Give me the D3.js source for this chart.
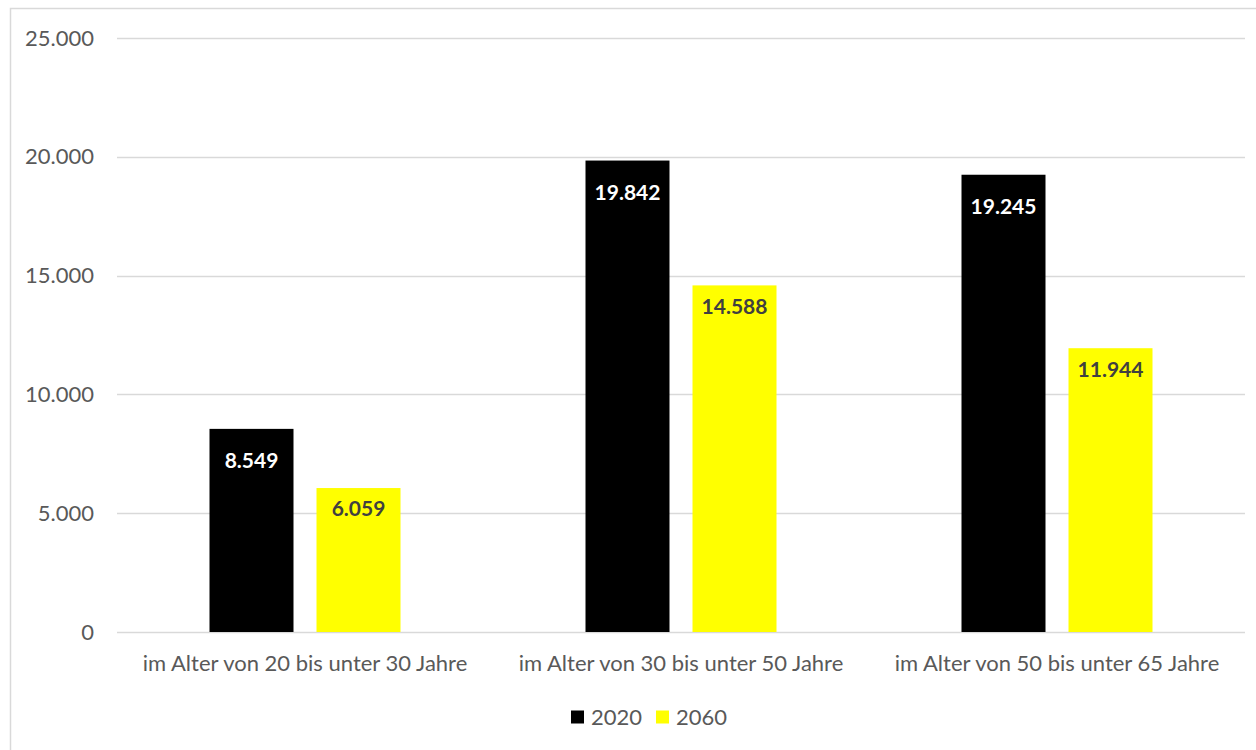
<!DOCTYPE html>
<meta charset="utf-8">
<title>Altersgruppen 2020 / 2060</title>
<script src="https://d3js.org/d3.v7.min.js"></script>
<style>
  body { margin: 0; background: #fff; }
  svg { font-family: Lato, "Open Sans", sans-serif; }
</style>
<body>
<svg class=chart></svg>
<script>

var categories = [
  "im Alter von 20 bis unter 30 Jahre",
  "im Alter von 30 bis unter 50 Jahre",
  "im Alter von 50 bis unter 65 Jahre"
];
var series = ["2020", "2060"];
var values_2020 = [8549, 19842, 19245];
var values_2060 = [6059, 14588, 11944];
var y_ticks = [0, 5000, 10000, 15000, 20000, 25000];

var width = 1256, height = 750;
var plot_left = 117, plot_right = 1245, plot_top = 38, plot_bottom = 632;
var colors = {"2020": "#000000", "2060": "#ffff00"};
var label_colors = {"2020": "#ffffff", "2060": "#404040"};
var label_offset = {"2020": 32, "2060": 21};

var fmt = function(d) { return d3.format(",")(d).replace(/,/g, "."); };

var svg = d3.select(".chart")
  .attr("width", width)
  .attr("height", height);

// outer frame
svg.append("rect")
  .attr("x", 10.5).attr("y", 8.5)
  .attr("width", 1260).attr("height", 760)
  .attr("fill", "none")
  .attr("stroke", "#d9d9d9")
  .attr("stroke-width", 1.5);

var x = d3.scaleBand()
  .domain(categories)
  .range([plot_left, plot_right]);

var x_inner = d3.scaleBand()
  .domain(series)
  .range([x.bandwidth() / 2 - 95.5, x.bandwidth() / 2 + 95.5])
  .paddingInner(0.215);

var y = d3.scaleLinear()
  .domain([0, 25000])
  .range([plot_bottom, plot_top]);

// gridlines
svg.append("g")
  .selectAll("line")
  .data(y_ticks)
  .enter().append("line")
    .attr("x1", plot_left).attr("x2", plot_right)
    .attr("y1", function(d) { return Math.round(y(d)) + 0.5; })
    .attr("y2", function(d) { return Math.round(y(d)) + 0.5; })
    .attr("stroke", "#d9d9d9")
    .attr("stroke-width", 1.5);

// y axis labels
var y_axis = d3.axisLeft(y)
  .tickValues(y_ticks)
  .tickFormat(fmt)
  .tickSize(0)
  .tickPadding(0);

var gy = svg.append("g")
  .attr("transform", "translate(94,0)")
  .call(y_axis);
gy.select(".domain").remove();
gy.selectAll("text")
  .attr("fill", "#595959")
  .style("font-size", "22px")
  .style("font-family", "Lato, 'Open Sans', sans-serif");

// bars
var rows = [];
categories.forEach(function(c, i) {
  rows.push({cat: c, s: "2020", v: values_2020[i]});
  rows.push({cat: c, s: "2060", v: values_2060[i]});
});

svg.append("g")
  .selectAll("rect")
  .data(rows)
  .enter().append("rect")
    .attr("x", function(d) { return x(d.cat) + x_inner(d.s); })
    .attr("y", function(d) { return y(d.v); })
    .attr("width", x_inner.bandwidth())
    .attr("height", function(d) { return y(0) - y(d.v); })
    .attr("fill", function(d) { return colors[d.s]; });

svg.append("g")
  .selectAll("text")
  .data(rows)
  .enter().append("text")
    .attr("x", function(d) { return x(d.cat) + x_inner(d.s) + x_inner.bandwidth() / 2; })
    .attr("y", function(d) { return y(d.v) + label_offset[d.s]; })
    .attr("dy", "0.35em")
    .attr("text-anchor", "middle")
    .attr("fill", function(d) { return label_colors[d.s]; })
    .style("font-size", "21px")
    .style("font-weight", "bold")
    .text(function(d) { return fmt(d.v); });

// category labels
var x_axis = d3.axisBottom(x).tickSize(0).tickPadding(0);
var gx = svg.append("g")
  .attr("transform", "translate(0," + 663 + ")")
  .call(x_axis);
gx.select(".domain").remove();
gx.selectAll("text")
  .attr("dy", "0.35em")
  .attr("fill", "#595959")
  .style("font-size", "22px")
  .style("font-family", "Lato, 'Open Sans', sans-serif");

// legend
var legend = svg.append("g").attr("transform", "translate(571,717)");
var lx = [0, 85];
series.forEach(function(s, i) {
  var g = legend.append("g").attr("transform", "translate(" + lx[i] + ",0)");
  g.append("rect")
    .attr("x", 0).attr("y", -6.5)
    .attr("width", 13).attr("height", 13)
    .attr("fill", colors[s]);
  g.append("text")
    .attr("x", 20).attr("y", 0)
    .attr("dy", "0.35em")
    .attr("fill", "#595959")
    .style("font-size", "22px")
    .text(s);
});

</script>
</body>
